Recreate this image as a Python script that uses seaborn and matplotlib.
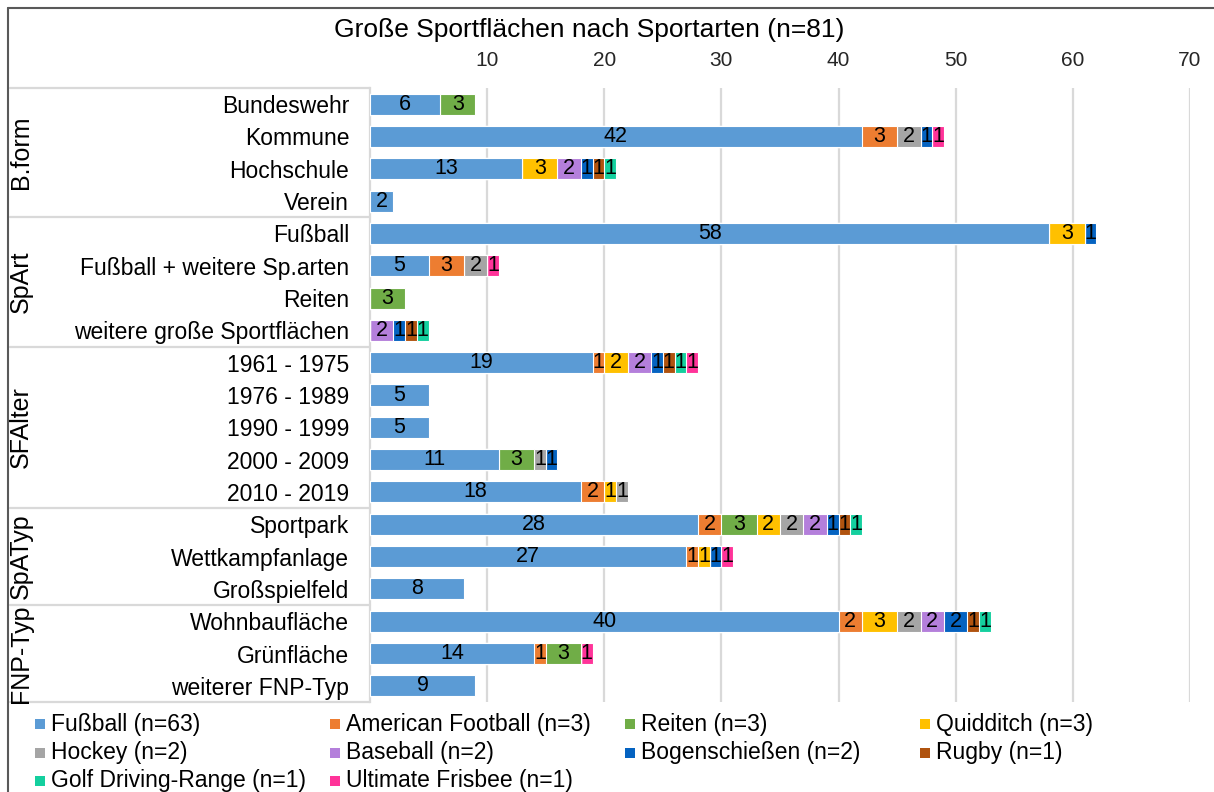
import numpy as np
import pandas as pd
import seaborn as sns
import matplotlib.pyplot as plt
from matplotlib.lines import Line2D
from matplotlib.patches import Rectangle
from matplotlib.transforms import blended_transform_factory

sns.set_theme(style="white")
plt.rcParams["font.family"] = ["Liberation Sans", "DejaVu Sans"]

categories = ["Bundeswehr", "Kommune", "Hochschule", "Verein",
              "Fußball", "Fußball + weitere Sp.arten", "Reiten", "weitere große Sportflächen",
              "1961 - 1975", "1976 - 1989", "1990 - 1999", "2000 - 2009", "2010 - 2019",
              "Sportpark", "Wettkampfanlage", "Großspielfeld",
              "Wohnbaufläche", "Grünfläche", "weiterer FNP-Typ"]
groups = ["B.form", "SpArt", "SFAlter", "SpATyp", "FNP-Typ"]
group_sizes = [4, 4, 5, 3, 3]

sports = ["Fußball (n=63)", "American Football (n=3)", "Reiten (n=3)", "Quidditch (n=3)",
          "Hockey (n=2)", "Baseball (n=2)", "Bogenschießen (n=2)", "Rugby (n=1)",
          "Golf Driving-Range (n=1)", "Ultimate Frisbee (n=1)"]
colors = ["#5B9BD5", "#ED7D31", "#70AD47", "#FFC000", "#A5A5A5",
          "#B47FDB", "#0563C1", "#B0530F", "#14CF9E", "#FF3399"]

fussball      = [6, 42, 13, 2, 58, 5, 0, 0, 19, 5, 5, 11, 18, 28, 27, 8, 40, 14, 9]
am_football   = [0, 3, 0, 0, 0, 3, 0, 0, 1, 0, 0, 0, 2, 2, 1, 0, 2, 1, 0]
reiten        = [3, 0, 0, 0, 0, 0, 3, 0, 0, 0, 0, 3, 0, 3, 0, 0, 0, 3, 0]
quidditch     = [0, 0, 3, 0, 3, 0, 0, 0, 2, 0, 0, 0, 1, 2, 1, 0, 3, 0, 0]
hockey        = [0, 2, 0, 0, 0, 2, 0, 0, 0, 0, 0, 1, 1, 2, 0, 0, 2, 0, 0]
baseball      = [0, 0, 2, 0, 0, 0, 0, 2, 2, 0, 0, 0, 0, 2, 0, 0, 2, 0, 0]
bogen         = [0, 1, 1, 0, 1, 0, 0, 1, 1, 0, 0, 1, 0, 1, 1, 0, 2, 0, 0]
rugby         = [0, 0, 1, 0, 0, 0, 0, 1, 1, 0, 0, 0, 0, 1, 0, 0, 1, 0, 0]
golf          = [0, 0, 1, 0, 0, 0, 0, 1, 1, 0, 0, 0, 0, 1, 0, 0, 1, 0, 0]
frisbee       = [0, 1, 0, 0, 0, 1, 0, 0, 1, 0, 0, 0, 0, 0, 1, 0, 0, 1, 0]

series = [fussball, am_football, reiten, quidditch, hockey,
          baseball, bogen, rugby, golf, frisbee]

df = pd.DataFrame(np.array(series).T, columns=sports)
df.insert(0, "Kategorie", categories)
cum = df[sports].cumsum(axis=1)

W, H = 1214, 792
fig = plt.figure(figsize=(W / 100, H / 100), dpi=100)
ax = fig.add_axes([370 / W, 1 - 702 / H, (1190 - 370) / W, (702 - 88) / H])

# stacked bars: draw cumulative totals from the last series to the first
for sp, col in reversed(list(zip(sports, colors))):
    sns.barplot(x=cum[sp], y=df["Kategorie"], orient="h", color=col, saturation=1,
                width=0.65, edgecolor="white", linewidth=0.8, ax=ax, zorder=3)

for sp in sports:
    for i, (v, c) in enumerate(zip(df[sp], cum[sp])):
        if v > 0:
            ax.text(c - v / 2, i, str(v), ha="center", va="center",
                    fontsize=15.5, color="black", zorder=4)

ax.set_xlim(0, 70)
ax.set_ylim(18.5, -0.5)
ax.set_xlabel("")
ax.set_ylabel("")
ax.xaxis.tick_top()
ax.set_xticks([10, 20, 30, 40, 50, 60, 70])
ax.tick_params(axis="x", length=0, pad=13, labelsize=15)
ax.tick_params(axis="y", length=0, pad=15, labelsize=16.5, labelcolor="black")
ax.grid(axis="x", color="#d9d9d9", linewidth=1.6, zorder=0)
ax.set_axisbelow(True)
for s in ["top", "right", "bottom"]:
    ax.spines[s].set_visible(False)
ax.spines["left"].set_color("#d9d9d9")
ax.spines["left"].set_linewidth(1.6)

# group separators and group labels
tr = blended_transform_factory(fig.transFigure, ax.transData)
bounds = np.concatenate([[0], np.cumsum(group_sizes)]) - 0.5
for b in bounds:
    ax.add_line(Line2D([10 / W, 370 / W], [b, b], transform=tr, color="#d9d9d9",
                       linewidth=1.6, clip_on=False))
for g, lo, hi in zip(groups, bounds[:-1], bounds[1:]):
    ax.text(21 / W, (lo + hi) / 2, g, transform=tr, rotation=90, ha="center",
            va="center", fontsize=18, color="black")

fig.text(589 / W, 1 - 30 / H, "Große Sportflächen nach Sportarten (n=81)",
         ha="center", va="center", fontsize=19, color="black")

# chart border (top and left edge)
fig.add_artist(Line2D([8 / W, 1], [1 - 8 / H, 1 - 8 / H], transform=fig.transFigure,
                      color="#595959", linewidth=1.5))
fig.add_artist(Line2D([8 / W, 8 / W], [0, 1 - 8 / H], transform=fig.transFigure,
                      color="#595959", linewidth=1.5))

# legend, 4 equal columns
col_x = [35, 330, 625, 920]
row_y = [724, 753, 781]
for k, (sp, col) in enumerate(zip(sports, colors)):
    x0, y0 = col_x[k % 4], row_y[k // 4]
    fig.add_artist(Rectangle((x0 / W, 1 - (y0 + 5) / H), 10 / W, 10 / H,
                             transform=fig.transFigure, facecolor=col, edgecolor="none"))
    fig.text((x0 + 16) / W, 1 - y0 / H, sp, ha="left", va="center", fontsize=16.5,
             color="black")

fig.savefig("out.png", dpi=100)
